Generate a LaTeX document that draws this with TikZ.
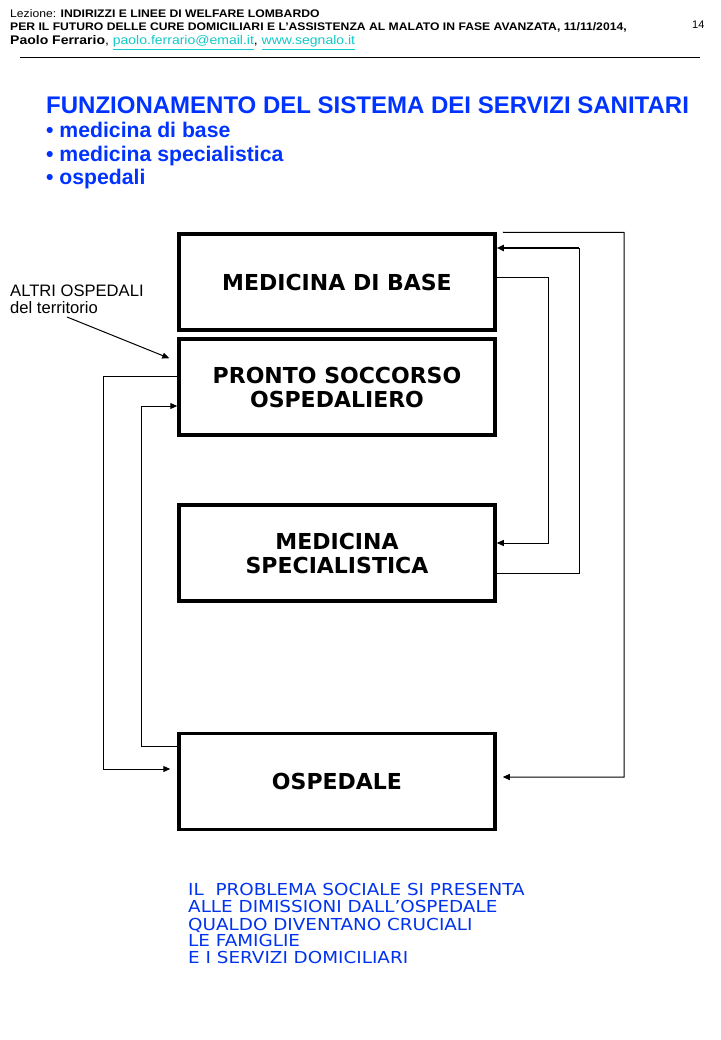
\documentclass[tikz,border=0pt]{standalone}
\usepackage{fontspec}
\setmainfont{Liberation Sans}
\newfontfamily\verd{DejaVu Sans}
\usetikzlibrary{arrows.meta,calc}
\definecolor{titleblue}{RGB}{0,51,255}
\definecolor{textblue}{RGB}{0,51,238}
\definecolor{linkc}{RGB}{20,200,200}
\tikzset{
  box/.style={draw,line width=3.5pt,minimum width=316pt,minimum height=96pt,inner sep=0pt,
    align=center,font=\verd\bfseries\fontsize{22}{24}\selectfont},
  conn/.style={line width=1pt},
  arr/.style={-{Triangle[length=7pt,width=6pt]}},
  hdr/.style={anchor=base west,inner sep=0pt,font=\fontsize{11}{12}\selectfont},
  bul/.style={anchor=base west,inner sep=0pt,text=titleblue,font=\bfseries\fontsize{21.2}{24}\selectfont},
  bot/.style={anchor=base west,inner sep=0pt,text=textblue,font=\verd\fontsize{16.5}{17}\selectfont}
}
\begin{document}
\begin{tikzpicture}[x=1pt,y=-1pt]
\path[use as bounding box,fill=white] (0,0) rectangle (720,1040);
% header
\node[hdr] (h1) at (10,18) {\scalebox{1.106}[1]{Lezione: \textbf{INDIRIZZI E LINEE DI WELFARE LOMBARDO}}};
\node[hdr] (h2) at (10,31) {\scalebox{1.106}[1]{\textbf{PER IL FUTURO DELLE CURE DOMICILIARI E L’ASSISTENZA AL MALATO IN FASE AVANZATA, 11/11/2014,}}};
\node[hdr,font=\fontsize{12.5}{13}\selectfont] (h3) at (10,45) {\scalebox{1.12}[1]{\textbf{Paolo Ferrario}, \textcolor{linkc}{\underline{paolo.ferrario@email.it}}, \textcolor{linkc}{\underline{www.segnalo.it}}}};
\node[hdr] (pg) at (692,29) {14};
\draw[line width=1pt] (20,58) coordinate (r1) -- (700,58) coordinate (r2);
% title
\node[bul,font=\bfseries\fontsize{24}{26}\selectfont] (title) at (46,114) {FUNZIONAMENTO DEL SISTEMA DEI SERVIZI SANITARI};
\node[bul] (b1) at (46,138) {• medicina di base};
\node[bul] (b2) at (46,162) {• medicina specialistica};
\node[bul] (b3) at (46,185) {• ospedali};
% boxes
\node[box] (mdb) at (337,282) {MEDICINA DI BASE};
\node[box] (ps) at (337,387) {PRONTO SOCCORSO\\OSPEDALIERO};
\node[box] (ms) at (337,553) {MEDICINA\\SPECIALISTICA};
\node[box] (osp) at (337,781.5) {OSPEDALE};
% label
\node[anchor=base west,inner sep=0pt,font=\fontsize{16.6}{16}\selectfont] (altri1) at (10,297) {ALTRI OSPEDALI};
\node[anchor=base west,inner sep=0pt,font=\fontsize{16.6}{16}\selectfont] (altri2) at (10,313) {del territorio};
\coordinate (astart) at (67,317);
\draw[conn,arr] (astart) -- ($(ps.north west)+(-8,21)$);
% connectors
\draw[conn,arr] (mdb.east |- 0,278) -- (548,278) -- (548,543) -- (ms.east |- 0,543);
\draw[conn] (ms.east |- 0,573) -- (579,573) -- (579,248);
\draw[line width=2pt,arr] (579,248) -- (mdb.east |- 0,248);
\draw[conn,arr,shorten >=6pt] ([xshift=6pt]mdb.north east) -- (624,232.5) -- (624,777) -- (osp.east |- 0,777);
\draw[conn,arr,shorten >=7pt] (ps.west |- 0,376) -- (103,376) -- (103,769) -- (osp.west |- 0,769);
\draw[conn,arr] (osp.west |- 0,746) -- (141,746) -- (141,406) -- (ps.west |- 0,406);
% bottom text
\node[bot] (t1) at (188,895) {\scalebox{1.113}[1]{IL\ \ PROBLEMA SOCIALE SI PRESENTA}};
\node[bot] (t2) at (188,912.5) {\scalebox{1.113}[1]{ALLE DIMISSIONI DALL’OSPEDALE}};
\node[bot] (t3) at (188,930) {\scalebox{1.113}[1]{QUALDO DIVENTANO CRUCIALI}};
\node[bot] (t4) at (188,946.5) {\scalebox{1.113}[1]{LE FAMIGLIE}};
\node[bot] (t5) at (188,963) {\scalebox{1.113}[1]{E I SERVIZI DOMICILIARI}};
\end{tikzpicture}
\end{document}
